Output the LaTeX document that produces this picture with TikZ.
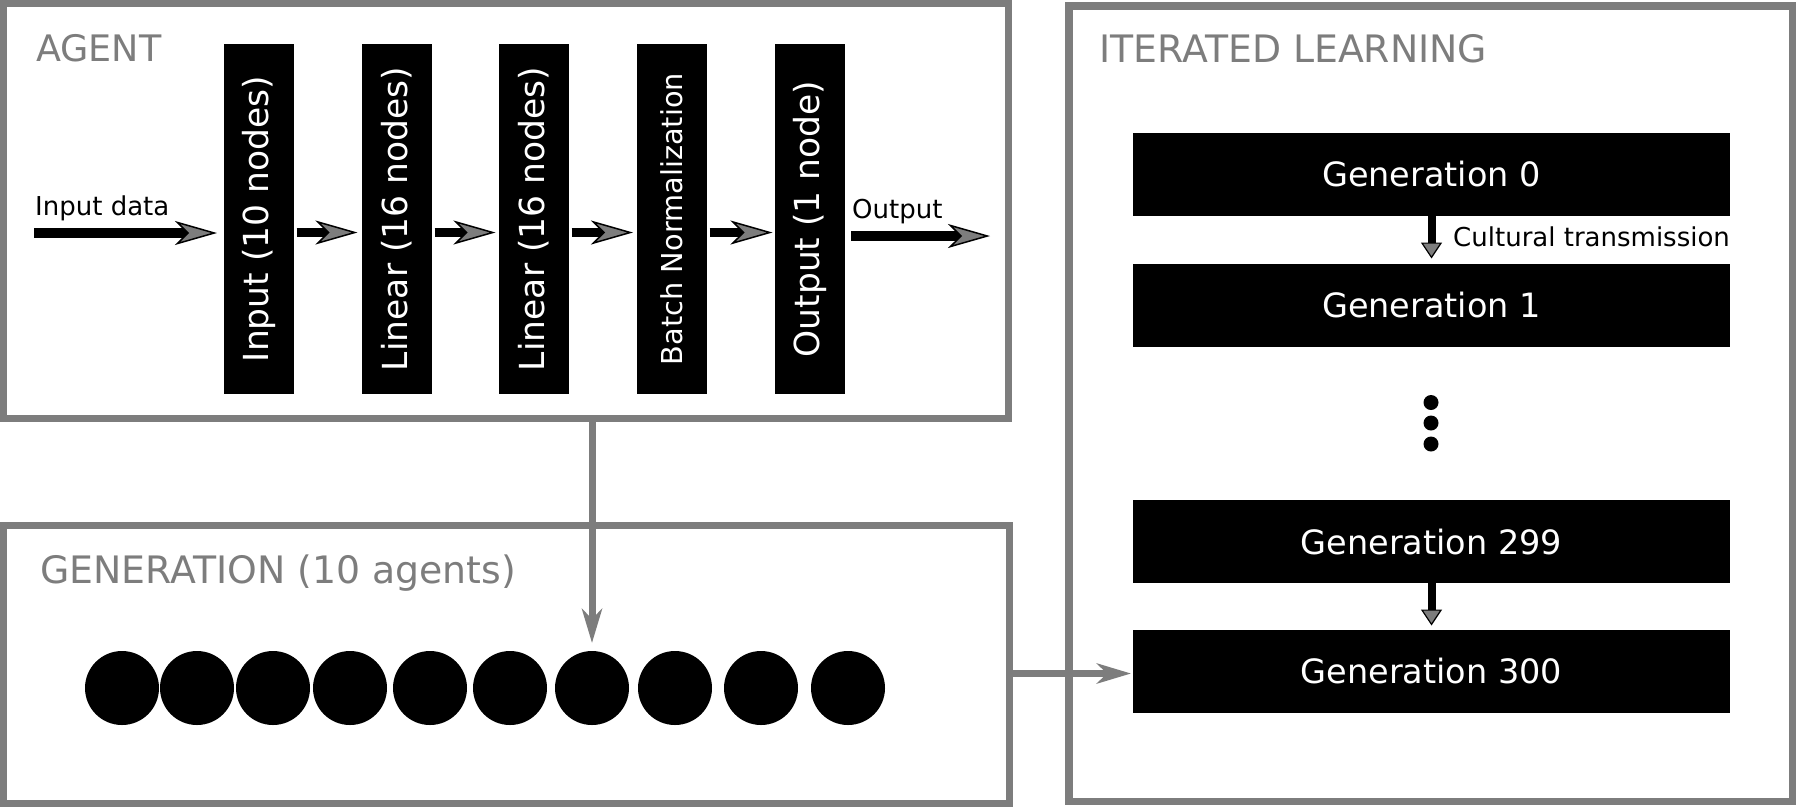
\documentclass[tikz,border=0pt]{standalone}
\usepackage{fontspec}
\setmainfont{DejaVu Sans}
\usetikzlibrary{arrows.meta}
\definecolor{mygray}{RGB}{125,125,125}
\tikzset{
  frame/.style={draw=mygray, line width=7.5pt, outer sep=0pt, inner sep=0pt},
  titletext/.style={text=mygray, font=\fontsize{37.8}{44}\selectfont, anchor=base west, inner sep=0pt},
  layer/.style={fill=black, minimum width=70pt, minimum height=350pt, inner sep=0pt, outer sep=0pt, text=white, font=\fontsize{34.5}{40}\selectfont},
  genbox/.style={fill=black, minimum width=597pt, minimum height=83pt, inner sep=0pt, outer sep=0pt, text=white, font=\fontsize{33.5}{40}\selectfont},
  smalllabel/.style={font=\fontsize{26}{30}\selectfont, anchor=base west, inner sep=0pt},
  blkarrow/.style={line width=9.5pt, -{Stealth[length=42pt, width=24pt, inset=12pt, fill=mygray, color=black, line width=1.5pt]}},
  triarrow/.style={line width=8pt, -{Triangle[length=16pt, width=21pt, fill=mygray, color=black, line width=1.2pt]}},
  greyarrow/.style={draw=mygray, line width=7pt, -{Stealth[length=34pt, width=20pt, inset=10pt, fill=mygray, color=mygray]}},
  agentdot/.style={circle, fill=black, minimum size=74pt, inner sep=0pt, outer sep=0pt}
}
\begin{document}
\begin{tikzpicture}[x=1pt, y=-1pt]
\useasboundingbox[fill=white] (0,0) rectangle (1798,807);

% frames
\node[frame, minimum width=1005pt, minimum height=415pt] (agentbox) at (506,211) {};
\node[frame, minimum width=1006pt, minimum height=278pt] (genframe) at (506.5,664.5) {};
\node[frame, minimum width=723.5pt, minimum height=795.5pt] (ilframe) at (1430.75,403.75) {};

% titles
\node[titletext, font=\fontsize{36.5}{44}\selectfont] (tagent) at (36,61) {AGENT};
\node[titletext] (til) at (1099,62) {ITERATED LEARNING};
\node[titletext] (tgen) at (40,583) {GENERATION (10 agents)};

% layers
\node[layer] (in) at (259,219) {\rotatebox{90}{Input (10 nodes)}};
\node[layer] (lin1) at (397,219) {\rotatebox{90}{Linear (16 nodes)}};
\node[layer] (lin2) at (534,219) {\rotatebox{90}{Linear (16 nodes)}};
\node[layer, font=\fontsize{28.8}{34}\selectfont] (bn) at (672,219) {\rotatebox{90}{Batch Normalization}};
\node[layer] (out) at (810,219) {\rotatebox{90}{Output (1 node)}};

% agent arrows
\coordinate (inpstart) at (34,233);
\coordinate (outend) at (990,236);
\coordinate (row) at (0,232.5);
\node[smalllabel] (linp) at (35,215) {Input data};
\node[smalllabel] (lout) at (852,218) {Output};
\draw[blkarrow, shorten >=7pt] (inpstart) -- (in.west |- inpstart);
\draw[blkarrow, shorten <=2.5pt, shorten >=4.5pt] (in.east |- row) -- (lin1.west |- row);
\draw[blkarrow, shorten <=2.5pt, shorten >=3.5pt] (lin1.east |- row) -- (lin2.west |- row);
\draw[blkarrow, shorten <=2.5pt, shorten >=4pt] (lin2.east |- row) -- (bn.west |- row);
\draw[blkarrow, shorten <=2.5pt, shorten >=2.5pt] (bn.east |- row) -- (out.west |- row);
\draw[blkarrow, shorten <=6pt] (out.east |- outend) -- (outend);

% generation of agents
\node[agentdot] (a1) at (122,688) {};
\node[agentdot] (a2) at (197,688) {};
\node[agentdot] (a3) at (273,688) {};
\node[agentdot] (a4) at (350,688) {};
\node[agentdot] (a5) at (430,688) {};
\node[agentdot] (a6) at (510,688) {};
\node[agentdot] (a7) at (592,688) {};
\node[agentdot] (a8) at (675,688) {};
\node[agentdot] (a9) at (761,688) {};
\node[agentdot] (a10) at (848,688) {};

% iterated learning
\node[genbox] (g0) at (1431.5,174.5) {Generation 0};
\node[genbox] (g1) at (1431.5,305) {Generation 1};
\node[genbox] (g299) at (1431.5,541.5) {Generation 299};
\node[genbox] (g300) at (1431.5,671) {Generation 300};
\draw[triarrow, shorten >=5pt] (g0.south) -- (g1.north);
\draw[triarrow, shorten >=4pt] (g299.south) -- (g300.north);
\node[smalllabel] (lct) at (1453,246) {Cultural transmission};
\fill (1431,402.5) circle (7.5pt);
\fill (1431,423) circle (7.5pt);
\fill (1431,444) circle (7.5pt);

% grey connectors
\coordinate (hrow) at (0,673.5);
\draw[greyarrow, shorten >=8pt] (a7 |- agentbox.south) -- (a7.north);
\draw[greyarrow, shorten >=2pt] (genframe.east |- hrow) -- (g300.west |- hrow);
\end{tikzpicture}
\end{document}
